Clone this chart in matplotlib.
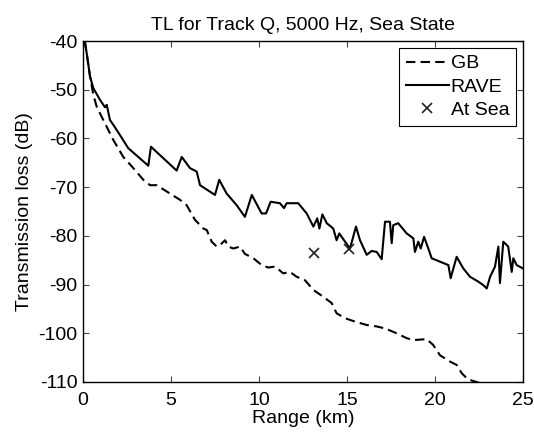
import matplotlib
matplotlib.use("Agg")
import matplotlib.pyplot as plt

plt.rcParams['font.family'] = ['Liberation Sans', 'DejaVu Sans']
plt.rcParams['axes.unicode_minus'] = False

title = "TL for Track Q, 5000 Hz, Sea State"
xlabel = "Range (km)"
ylabel = "Transmission loss (dB)"
xticks = [0, 5, 10, 15, 20, 25]
yticks = [-40, -50, -60, -70, -80, -90, -100, -110]

rave_km = [0.10, 0.21, 0.40, 0.59, 0.97, 1.25, 1.35, 1.53, 1.72, 2.10, 2.57, 3.14, 3.71, 3.86,
           5.32, 5.61, 6.08, 6.46, 6.65, 7.50, 7.74, 8.16, 8.73, 9.20, 9.59, 10.15, 10.40, 10.66,
           11.19, 11.42, 11.57, 12.23, 12.71, 13.09, 13.31, 13.43, 13.60, 13.85, 14.22, 14.41,
           14.56, 14.89, 15.17, 15.51, 15.74, 16.12, 16.40, 16.69, 16.97, 17.16, 17.44, 17.54,
           17.63, 17.91, 18.39, 18.77, 18.86, 19.05, 19.19, 19.38, 19.62, 19.81, 20.28, 20.76,
           20.89, 21.23, 21.61, 21.99, 22.46, 22.74, 22.94, 23.13, 23.41, 23.60, 23.69, 23.88,
           24.16, 24.36, 24.45, 24.64, 25.0]
rave_db = [-40.0, -42.5, -47.3, -49.7, -52.1, -53.6, -53.1, -56.2, -57.2, -59.3, -62.0, -63.8, -65.6, -61.7,
           -66.6, -63.8, -66.1, -66.8, -69.6, -71.6, -68.5, -71.3, -73.7, -76.1, -71.6, -75.4, -75.4, -73.0,
           -73.3, -74.3, -73.3, -73.3, -75.4, -78.1, -76.4, -78.5, -75.6, -77.4, -78.5, -80.9,
           -79.5, -81.2, -82.6, -78.1, -80.9, -83.9, -83.1, -83.3, -84.8, -77.1, -77.1, -81.5,
           -77.8, -77.4, -79.5, -80.5, -83.3, -81.2, -82.6, -80.2, -82.6, -84.6, -85.3, -86.0,
           -88.7, -84.3, -86.7, -88.4, -89.4, -90.1, -90.8, -88.4, -86.3, -82.2, -89.7, -81.2,
           -82.2, -87.4, -84.6, -86.0, -86.7]

gb_km = [0.10, 0.21, 0.40, 0.59, 0.78, 1.15, 1.72, 2.29, 2.86, 3.43, 3.81, 4.19, 4.76, 5.51, 5.89,
         6.36, 6.84, 7.03, 7.31, 7.60, 7.78, 8.07, 8.26, 8.54, 8.92, 9.20, 9.68, 10.15, 10.53, 10.91,
         11.38, 11.76, 12.14, 12.61, 13.09, 13.65, 14.13, 14.41, 14.89, 15.45, 16.12, 16.69, 17.16,
         17.82, 18.39, 18.77, 19.53, 19.90, 20.28, 20.85, 21.23, 21.52, 21.80, 22.09, 22.37, 23.5, 25.0]
gb_db = [-40.0, -42.5, -47.3, -51.1, -53.5, -56.2, -60.3, -63.8, -66.1, -68.5, -69.6, -69.6, -70.9, -72.6, -73.7,
         -76.7, -78.5, -78.8, -81.2, -82.2, -81.9, -80.9, -82.2, -82.6, -82.2, -83.7, -84.6, -86.0, -86.5, -86.3,
         -87.7, -87.4, -88.4, -89.1, -91.1, -92.5, -93.8, -95.9, -96.9, -97.6, -98.3, -98.6, -99.0,
         -100.0, -101.0, -101.4, -101.2, -102.4, -104.5, -105.8, -106.5, -108.2, -109.2, -109.7, -110.0, -111.5, -113.0]

sea_km = [13.14, 15.13]
sea_db = [-83.5, -82.6]

fs = 14

fig = plt.figure(figsize=(5.34, 4.37), dpi=100)
ax = fig.add_axes([83/534, 1 - 382/437, 440/534, 341/437])

ax.plot(gb_km, gb_db, color='black', linewidth=1.5, linestyle=(0, (4.5, 2.5)), label='GB')
ax.plot(rave_km, rave_db, color='black', linewidth=1.5, linestyle='-', label='RAVE')
ax.plot(sea_km, sea_db, linestyle='none', marker='x', color='#222222', markersize=7,
        markeredgewidth=1.2, label='At Sea')

ax.set_xlim(0, 25)
ax.set_ylim(-110, -40)
ax.set_xticks(xticks)
ax.set_yticks(yticks)
ax.tick_params(direction='in', length=4, width=0.8, top=True, right=True,
               labelsize=fs, color='#444444')
ax.tick_params(axis='y', pad=4)
ax.tick_params(axis='x', pad=7)
for s in ax.spines.values():
    s.set_linewidth(1.0)
ax.set_xlabel(xlabel, fontsize=fs, labelpad=1)
ax.set_ylabel(ylabel, fontsize=fs, labelpad=4)
ax.set_title(title, fontsize=fs, pad=8)

leg = ax.legend(loc='upper right', fontsize=fs, handlelength=2.2, handletextpad=0.1,
                labelspacing=0.3, borderaxespad=0.36, borderpad=0.35, fancybox=False,
                framealpha=1, edgecolor='black')
leg.get_frame().set_linewidth(0.8)

fig.savefig('out.png', dpi=100)
